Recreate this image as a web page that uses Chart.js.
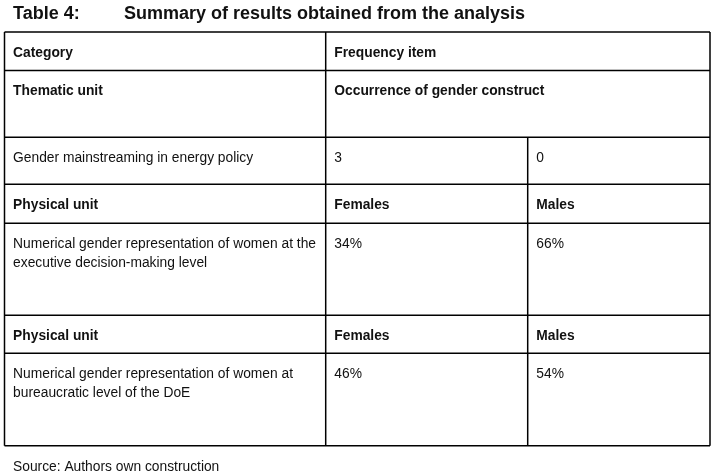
<!DOCTYPE html>
<html>
<head>
<meta charset="utf-8">
<title>Table 4</title>
<script src="https://cdn.jsdelivr.net/npm/chart.js@4.4.1/dist/chart.umd.min.js"></script>
<style>
    html, body { margin: 0; padding: 0; background: #fff; }
    canvas { display: block; }
</style>
</head>
<body>
<canvas id="chart-tabela" width="721" height="476"></canvas>
<script>
// Dados da tabela
const tableNumber = 'Table 4:';
const tableCaption = 'Summary of results obtained from the analysis';
const sourceNote = 'Source: Authors own construction';
const headerLabels = ['Category', 'Frequency item'];
const thematicLabels = ['Thematic unit', 'Occurrence of gender construct'];
const unitLabels = ['Physical unit', 'Physical unit'];
const genderLabels = ['Females', 'Males'];
const categories = [
    'Gender mainstreaming in energy policy',
    'Numerical gender representation of women at the executive decision-making level',
    'Numerical gender representation of women at bureaucratic level of the DoE'
];
const occurrenceCounts = [3, 0];
const femalePercent = [34, 46];
const malePercent = [66, 54];

// Linhas da tabela montadas a partir dos arrays
const rows = [
    { cells: headerLabels, bold: true, span: true },
    { cells: thematicLabels, bold: true, span: true },
    { cells: [categories[0], String(occurrenceCounts[0]), String(occurrenceCounts[1])] },
    { cells: [unitLabels[0], genderLabels[0], genderLabels[1]], bold: true },
    { cells: [categories[1], femalePercent[0] + '%', malePercent[0] + '%'] },
    { cells: [unitLabels[1], genderLabels[0], genderLabels[1]], bold: true },
    { cells: [categories[2], femalePercent[1] + '%', malePercent[1] + '%'] }
];

// Layout (unidades das escalas = pixels da página)
const layoutCfg = {
    colEdges: [4.5, 325.7, 527.7, 710],
    rowEdges: [32, 70.5, 137.3, 184.3, 223.3, 315.3, 353.3, 445.7],
    padX: 8.6,
    baseline: 24.8,
    lineHeight: 19,
    font: '"Liberation Sans", Arial, sans-serif',
    size: 13.8
};

function wrapText(ctx, text, maxWidth) {
    const words = text.split(' ');
    const lines = [];
    let line = '';
    words.forEach(w => {
        const test = line ? line + ' ' + w : w;
        if (ctx.measureText(test).width > maxWidth && line) {
            lines.push(line);
            line = w;
        } else {
            line = test;
        }
    });
    if (line) lines.push(line);
    return lines;
}

const tablePlugin = {
    id: 'tabela',
    afterDraw(chart) {
        const ctx = chart.ctx;
        const xs = chart.scales.x, ys = chart.scales.y;
        const px = v => xs.getPixelForValue(v);
        const py = v => ys.getPixelForValue(v);
        const c = layoutCfg.colEdges, r = layoutCfg.rowEdges;

        ctx.save();
        ctx.fillStyle = '#111';
        ctx.textBaseline = 'alphabetic';
        ctx.textAlign = 'left';

        // Título
        ctx.font = 'bold 18px ' + layoutCfg.font;
        ctx.fillText(tableNumber, px(13), py(19));
        ctx.fillText(tableCaption, px(124), py(19));

        // Células
        rows.forEach((row, i) => {
            ctx.font = (row.bold ? 'bold ' : '') + layoutCfg.size + 'px ' + layoutCfg.font;
            row.cells.forEach((txt, j) => {
                const x0 = c[j], x1 = row.span && j === row.cells.length - 1 ? c[c.length - 1] : c[j + 1];
                const maxW = px(x1) - px(x0) - 2 * layoutCfg.padX + 4;
                const lines = wrapText(ctx, txt, maxW);
                lines.forEach((ln, k) => {
                    ctx.fillText(ln, px(x0 + layoutCfg.padX), py(r[i] + layoutCfg.baseline + k * layoutCfg.lineHeight));
                });
            });
        });

        // Fonte
        ctx.font = layoutCfg.size + 'px ' + layoutCfg.font;
        ctx.fillText(sourceNote, px(13), py(471));

        // Grade
        ctx.strokeStyle = '#000';
        ctx.lineWidth = 1.5;
        ctx.beginPath();
        r.forEach(y => {
            ctx.moveTo(px(c[0]), py(y));
            ctx.lineTo(px(c[c.length - 1]), py(y));
        });
        ctx.moveTo(px(c[0]), py(r[0]));
        ctx.lineTo(px(c[0]), py(r[r.length - 1]));
        ctx.moveTo(px(c[1]), py(r[0]));
        ctx.lineTo(px(c[1]), py(r[r.length - 1]));
        ctx.moveTo(px(c[2]), py(r[2]));
        ctx.lineTo(px(c[2]), py(r[r.length - 1]));
        ctx.moveTo(px(c[3]), py(r[0]));
        ctx.lineTo(px(c[3]), py(r[r.length - 1]));
        ctx.stroke();
        ctx.restore();
    }
};

const tabela = new Chart(document.getElementById('chart-tabela').getContext('2d'), {
    type: 'scatter',
    data: { datasets: [] },
    options: {
        responsive: false,
        animation: false,
        events: [],
        layout: { padding: 0 },
        scales: {
            x: { type: 'linear', min: 0, max: 721, display: false },
            y: { type: 'linear', min: 0, max: 476, reverse: true, display: false }
        },
        plugins: {
            legend: { display: false },
            tooltip: { enabled: false }
        }
    },
    plugins: [tablePlugin]
});
</script>
</body>
</html>
